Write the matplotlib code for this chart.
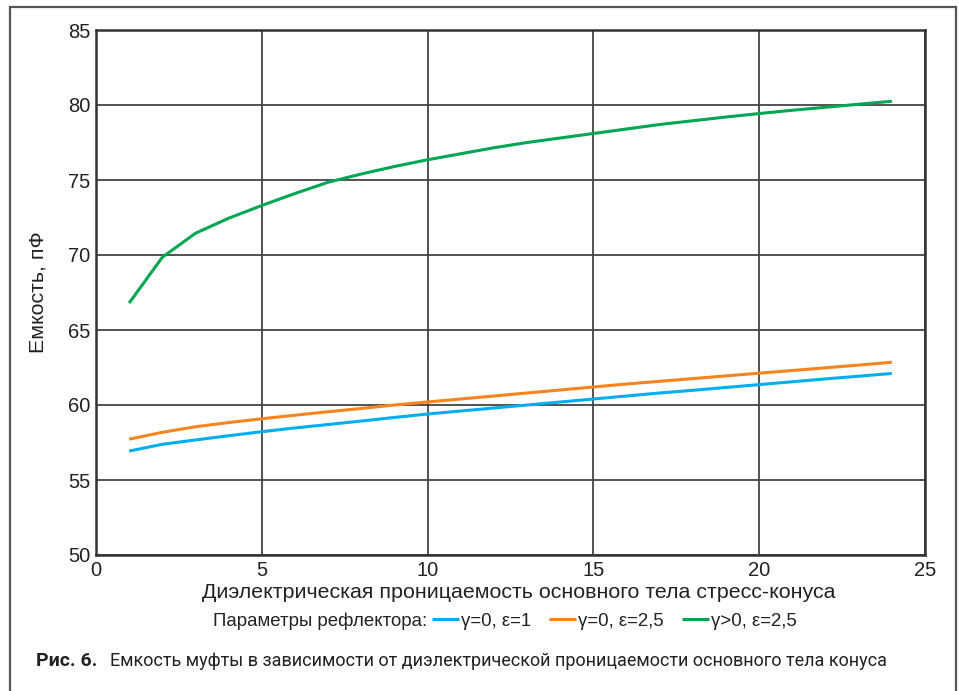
import matplotlib
matplotlib.use('Agg')
import matplotlib.pyplot as plt
from matplotlib.patches import Rectangle

# --- data ---
eps_body = list(range(1, 25))

c_gamma0_eps1 = [56.93, 57.38, 57.67, 57.95, 58.22, 58.47, 58.70, 58.93,
                 59.17, 59.40, 59.60, 59.80, 60.00, 60.20, 60.40, 60.60,
                 60.80, 60.98, 61.17, 61.36, 61.55, 61.74, 61.92, 62.10]
c_gamma0_eps25 = [57.72, 58.18, 58.55, 58.83, 59.08, 59.32, 59.55, 59.77,
                  60.00, 60.20, 60.40, 60.60, 60.80, 61.00, 61.20, 61.40,
                  61.58, 61.76, 61.94, 62.12, 62.30, 62.48, 62.66, 62.85]
c_gammapos_eps25 = [66.80, 69.85, 71.45, 72.45, 73.30, 74.10, 74.85, 75.40,
                    75.90, 76.35, 76.75, 77.15, 77.50, 77.80, 78.10, 78.40,
                    78.70, 78.95, 79.20, 79.43, 79.65, 79.85, 80.05, 80.25]

series_labels = ['γ=0, ε=1', 'γ=0, ε=2,5', 'γ>0, ε=2,5']
series_colors = ['#00AEEF', '#F7841F', '#00A651']

x_ticks = [0, 5, 10, 15, 20, 25]
y_ticks = [50, 55, 60, 65, 70, 75, 80, 85]

plt.rcParams['font.family'] = ['Liberation Sans', 'DejaVu Sans']

W, H = 959, 691
fig = plt.figure(figsize=(W / 100, H / 100), dpi=100)

# outer frame of the figure box (bottom edge runs off the image)
fig.patches.append(Rectangle((10 / W, -0.05), 946 / W, 1.05 - 7 / H,
                             transform=fig.transFigure, fill=False,
                             edgecolor='#555555', linewidth=1.6))

ax = fig.add_axes([96 / W, 1 - 555 / H, 829 / W, 525 / H])

for ys, lab, col in zip([c_gamma0_eps1, c_gamma0_eps25, c_gammapos_eps25],
                        series_labels, series_colors):
    ax.plot(eps_body, ys, color=col, linewidth=2.2, label=lab,
            solid_capstyle='butt', zorder=3)

ax.set_xlim(0, 25)
ax.set_ylim(50, 85)
ax.set_xticks(x_ticks)
ax.set_yticks(y_ticks)
ax.tick_params(length=0, labelsize=14.5, colors='#222222', pad=4)
ax.grid(True, color='#444444', linewidth=1.3, zorder=1)
for sp in ax.spines.values():
    sp.set_color('#333333')
    sp.set_linewidth(1.8)

ax.set_xlabel('Диэлектрическая проницаемость основного тела стресс-конуса',
              fontsize=15.4, color='#222222')
ax.xaxis.set_label_coords((519 - 96) / 829, -(592 - 555) / 525)
ax.xaxis.label.set_va('center')
ax.set_ylabel('Емкость, пФ', fontsize=15.4, color='#222222', labelpad=15)

# legend line
fig.text(213 / W, 1 - 621 / H, 'Параметры рефлектора:', fontsize=13.4,
         color='#222222', ha='left', va='center')
handles, labels = ax.get_legend_handles_labels()
fig.legend(handles, labels, ncol=3, frameon=False, fontsize=13.4,
           loc='center left', bbox_to_anchor=(432 / W, 1 - 621 / H),
           handlelength=1.45, handletextpad=0.12, columnspacing=0.95,
           borderpad=0, borderaxespad=0, labelcolor='#222222')

# caption
fig.text(36 / W, 1 - 661 / H, 'Рис. 6.', fontsize=14, fontweight='bold',
         family='Roboto', color='#222222', ha='left', va='center')
fig.text(110 / W, 1 - 661 / H,
         'Емкость муфты в зависимости от диэлектрической проницаемости основного тела конуса',
         fontsize=13, family='Roboto', color='#222222', ha='left', va='center')

fig.savefig('out.png', dpi=100)
